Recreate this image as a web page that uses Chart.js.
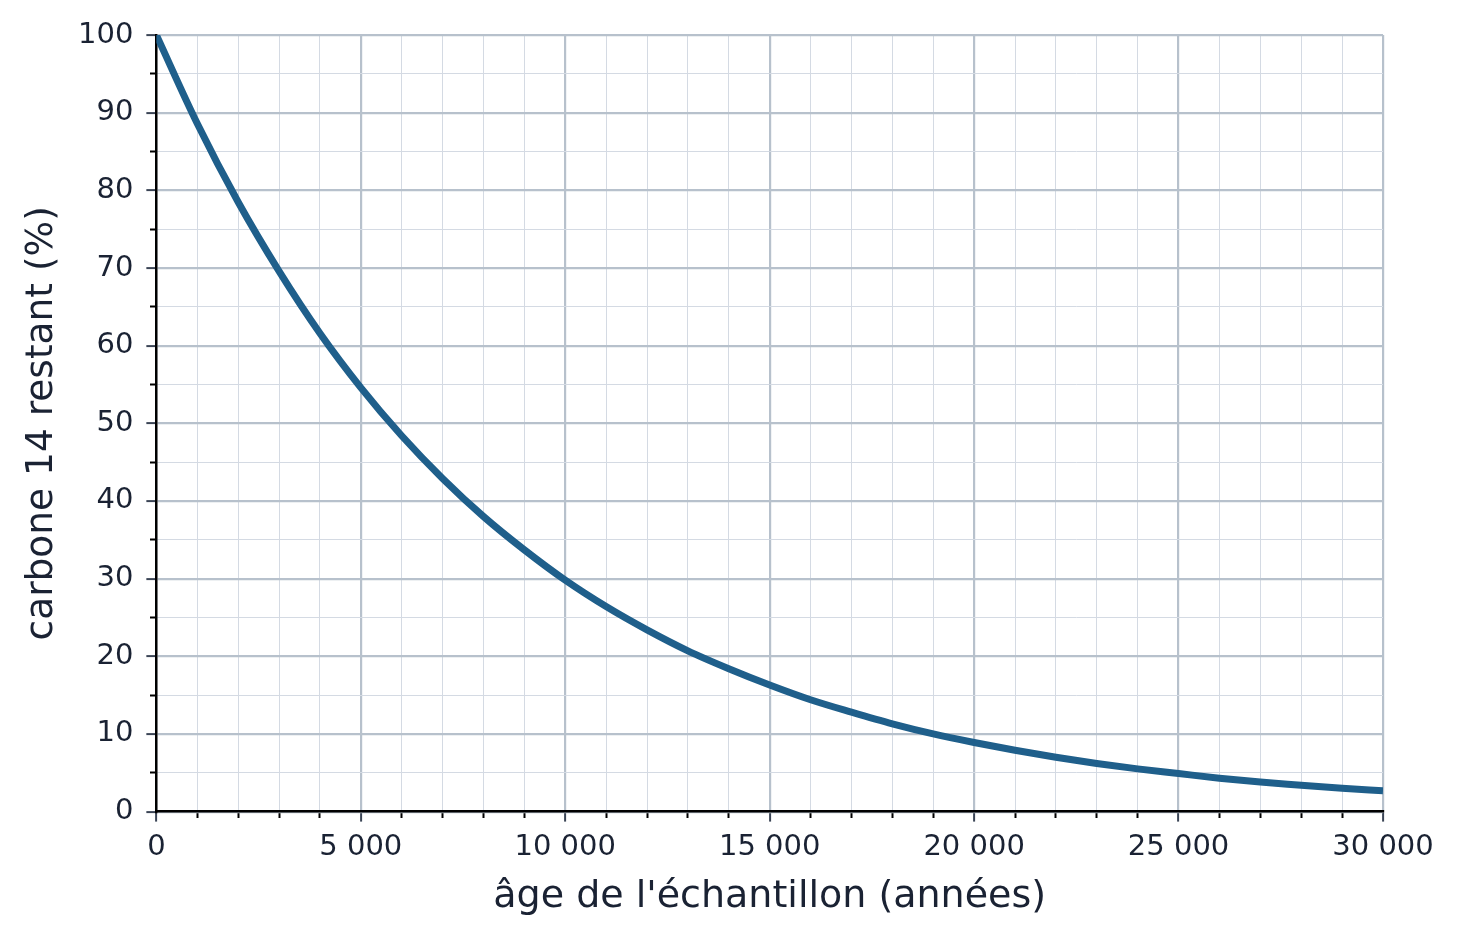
<!DOCTYPE html>
<html>
<head>
<meta charset="utf-8">
<script src="https://cdn.jsdelivr.net/npm/chart.js@4/dist/chart.umd.min.js"></script>
<style>
  html, body { margin: 0; padding: 0; background: #fff; }
  #wrap { width: 1460px; height: 941px; position: relative; }
</style>
</head>
<body>
<div id="wrap"><canvas id="c"></canvas></div>
<script>
// ages in years, remaining carbon 14 in %
var ages = [0, 1000, 2000, 3000, 4000, 5000, 6000, 7000, 8000, 9000, 10000,
            11000, 12000, 13000, 14000, 15000, 16000, 17000, 18000, 19000, 20000,
            21000, 22000, 23000, 24000, 25000, 26000, 27000, 28000, 29000, 30000];
var carbon = [100, 88.6, 78.5, 69.6, 61.6, 54.6, 48.4, 42.9, 38.0, 33.7, 29.8,
              26.4, 23.4, 20.7, 18.4, 16.3, 14.4, 12.8, 11.3, 10.0, 8.9,
              7.9, 7.0, 6.2, 5.5, 4.9, 4.3, 3.8, 3.4, 3.0, 2.7];
var xTicks = [0, 5000, 10000, 15000, 20000, 25000, 30000];
var yTicks = [0, 10, 20, 30, 40, 50, 60, 70, 80, 90, 100];

var textColor = "#1a2233";
var majorGrid = "#b7c1cc";
var minorGrid = "#d4dae3";
var majorTick = "#3a4455";
var lineColor = "#1f5f8b";

function spaced(v) {
  return String(v).replace(/\B(?=(\d{3})+(?!\d))/g, " ");
}

function isMajor(v, step) {
  return Math.abs(v % step) < 1e-6;
}

var points = ages.map(function (a, i) { return { x: a, y: carbon[i] }; });

var ctx = document.getElementById("c");
var myChart = new Chart(ctx, {
  type: "line",
  data: {
    datasets: [
      {
        data: points,
        borderColor: lineColor,
        borderWidth: 7,
        pointRadius: 0,
        fill: false,
        cubicInterpolationMode: "monotone"
      }
    ]
  },
  options: {
    responsive: true,
    maintainAspectRatio: false,
    animation: false,
    layout: { padding: { top: 35, right: 77, left: 0, bottom: 9 } },
    plugins: { legend: { display: false }, tooltip: { enabled: false } },
    scales: {
      x: {
        type: "linear",
        position: "bottom",
        min: xTicks[0],
        max: xTicks[xTicks.length - 1],
        afterBuildTicks: function (s) { s.ticks = xTicks.map(function (v) { return { value: v }; }); },
        ticks: {
          color: textColor,
          font: { family: "DejaVu Sans", size: 29 },
          padding: 8,
          maxRotation: 0,
          autoSkip: false,
          callback: function (v) { return spaced(v); }
        },
        grid: { color: majorGrid, lineWidth: 2.2, tickLength: 10, tickColor: majorTick, tickWidth: 2 },
        border: { display: true, color: "#000", width: 2.5 },
        title: {
          display: true,
          text: "âge de l'échantillon (années)",
          color: textColor,
          font: { family: "DejaVu Sans", size: 38 },
          padding: { top: 2, bottom: 12 }
        }
      },
      xMinor: {
        axis: "x",
        type: "linear",
        position: { y: 0 },
        min: xTicks[0],
        max: xTicks[xTicks.length - 1],
        ticks: { display: false, stepSize: 1000 },
        grid: {
          color: function (c) { return isMajor(c.tick.value, 5000) ? "rgba(0,0,0,0)" : minorGrid; },
          tickColor: function (c) { return isMajor(c.tick.value, 5000) ? "rgba(0,0,0,0)" : "#000"; },
          lineWidth: 1,
          tickWidth: 2,
          tickLength: 6
        },
        border: { display: false }
      },
      y: {
        type: "linear",
        position: "left",
        min: yTicks[0],
        max: yTicks[yTicks.length - 1],
        afterBuildTicks: function (s) { s.ticks = yTicks.map(function (v) { return { value: v }; }); },
        ticks: {
          color: textColor,
          font: { family: "DejaVu Sans", size: 29 },
          padding: 13,
          autoSkip: false
        },
        grid: { color: majorGrid, lineWidth: 2.2, tickLength: 10, tickColor: majorTick, tickWidth: 2 },
        border: { display: true, color: "#000", width: 2.5 },
        title: {
          display: true,
          text: "carbone 14 restant (%)",
          color: textColor,
          font: { family: "DejaVu Sans", size: 37.5 },
          padding: { top: 20, bottom: 0 }
        }
      },
      yMinor: {
        axis: "y",
        type: "linear",
        position: { x: 0 },
        min: yTicks[0],
        max: yTicks[yTicks.length - 1],
        ticks: { display: false, stepSize: 5 },
        grid: {
          color: function (c) { return isMajor(c.tick.value, 10) ? "rgba(0,0,0,0)" : minorGrid; },
          tickColor: function (c) { return isMajor(c.tick.value, 10) ? "rgba(0,0,0,0)" : "#000"; },
          lineWidth: 1,
          tickWidth: 2,
          tickLength: 6
        },
        border: { display: false }
      }
    }
  }
});
</script>
</body>
</html>
